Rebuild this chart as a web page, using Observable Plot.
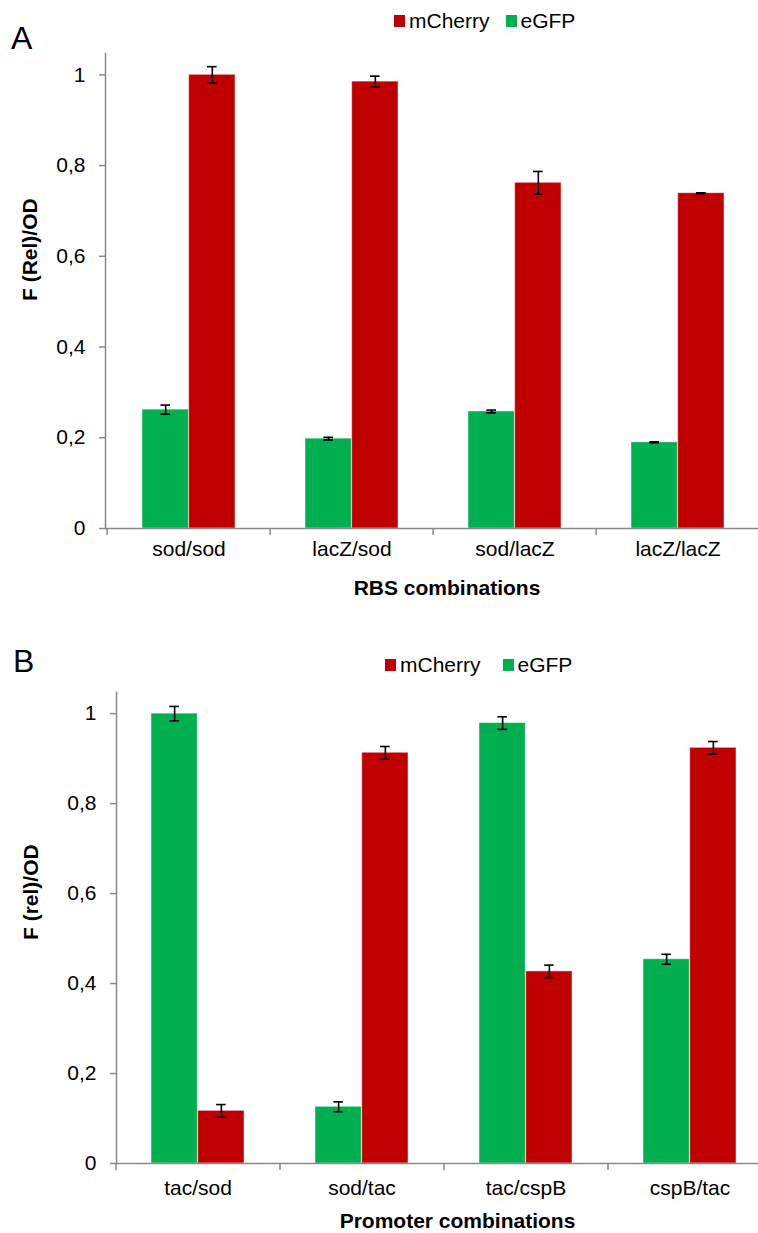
<!DOCTYPE html>
<html><head><meta charset="utf-8">
<script src="https://cdn.jsdelivr.net/npm/d3@7"></script>
<script src="https://cdn.jsdelivr.net/npm/@observablehq/plot@0.6"></script>
<style>
html,body{margin:0;padding:0;background:#fff;overflow:hidden;}
#page{position:relative;width:758px;height:1233px;overflow:hidden;font-family:"Liberation Sans",Arial,Helvetica,sans-serif;color:#000;}
.panel{position:absolute;left:0;width:800px;}
.panel svg{max-width:none !important;}
.letter{position:absolute;font-size:32px;line-height:1;}
.legend{position:absolute;display:flex;align-items:center;font-size:21px;line-height:1;}
.sw{display:inline-block;width:11px;height:12px;margin-right:4px;}
</style></head><body><div id="page"></div>
<script>
// ---- data ----
const seriesNames = ["mCherry", "eGFP"];
const seriesColors = ["#C00000", "#00B050"];
const yTicks = [0, 0.2, 0.4, 0.6, 0.8, 1];

const categoriesA = ["sod/sod", "lacZ/sod", "sod/lacZ", "lacZ/lacZ"];
const mCherryA = [1.0, 0.985, 0.762, 0.739];
const mCherryErrA = [0.018, 0.012, 0.025, 0.001];
const eGFPA = [0.262, 0.198, 0.258, 0.190];
const eGFPErrA = [0.010, 0.003, 0.003, 0.001];

const categoriesB = ["tac/sod", "sod/tac", "tac/cspB", "cspB/tac"];
const mCherryB = [0.117, 0.913, 0.427, 0.924];
const mCherryErrB = [0.014, 0.014, 0.014, 0.014];
const eGFPB = [1.0, 0.126, 0.979, 0.454];
const eGFPErrB = [0.016, 0.011, 0.014, 0.011];

const GRAY = "#898989";
const FONT = "Liberation Sans, Arial, Helvetica, sans-serif";
const fmt = d => String(d).replace(".", ",");

function panel(o) {
  const rows = [];
  o.categories.forEach((c, i) => {
    rows.push({cat: c, series: "eGFP", value: o.eGFP[i], err: o.eGFPErr[i]});
    rows.push({cat: c, series: "mCherry", value: o.mCherry[i], err: o.mCherryErr[i]});
  });
  const G = rows.filter(d => d.series === "eGFP");
  const R = rows.filter(d => d.series === "mCherry");
  const pI = 0.43;
  const step = (o.width - o.marginLeft - 0) / o.categories.length;
  const bw = step * (1 - pI);
  const cap = 5;
  const errMarks = (data, side) => {
    const dx = side * bw / 4;
    const inL = side < 0 ? bw / 4 - cap : 3 * bw / 4 - cap;
    const inR = side < 0 ? 3 * bw / 4 - cap : bw / 4 - cap;
    return [
      Plot.ruleX(data, {x: "cat", y1: d => d.value - d.err, y2: d => d.value + d.err, dx, stroke: "#000", strokeWidth: 1.6}),
      Plot.tickY(data, {x: "cat", y: d => d.value - d.err, insetLeft: inL, insetRight: inR, stroke: "#000", strokeWidth: 1.6}),
      Plot.tickY(data, {x: "cat", y: d => d.value + d.err, insetLeft: inL, insetRight: inR, stroke: "#000", strokeWidth: 1.6})
    ];
  };
  return Plot.plot({
    width: o.width, height: o.height,
    marginLeft: o.marginLeft, marginRight: 0, marginTop: o.marginTop, marginBottom: o.marginBottom,
    style: {fontFamily: FONT, fontSize: "21px", background: "#fff", overflow: "visible", maxWidth: "none"},
    x: {domain: o.categories, paddingInner: pI, paddingOuter: pI / 2},
    y: {domain: [0, 1.047]},
    color: {domain: seriesNames, range: seriesColors},
    marks: [
      Plot.barY(G, {x: "cat", y: "value", fill: "series", insetLeft: 0, insetRight: bw / 2, stroke: "#fff", strokeOpacity: 0.45, strokeWidth: 1}),
      Plot.barY(R, {x: "cat", y: "value", fill: "series", insetLeft: bw / 2, insetRight: 0, stroke: "#fff", strokeOpacity: 0.45, strokeWidth: 1}),
      ...errMarks(G, -1),
      ...errMarks(R, 1),
      Plot.ruleY([0], {stroke: GRAY, strokeWidth: 1.5}),
      Plot.frame({anchor: "left", stroke: GRAY, strokeWidth: 1.5}),
      Plot.axisY({ticks: yTicks, tickSize: 6, tickPadding: 14, tickFormat: fmt, stroke: GRAY, fill: "#000", fontSize: 21, label: null, strokeWidth: 1.5}),
      Plot.axisX({ticks: o.categories, tickSize: 7, dx: -step / 2, tickFormat: () => "", stroke: GRAY, label: null, strokeWidth: 1.5}),
      Plot.axisX({tickSize: 0, tickPadding: o.catPad, fontSize: 21, fill: "#000", label: null}),
      Plot.text([o.xLabel], {text: d => d, frameAnchor: "bottom", dx: o.xlabDx, dy: o.xlabDy, fontWeight: "bold", fontSize: 21}),
      Plot.text([o.yLabel], {text: d => d, frameAnchor: "left", rotate: -90, dx: o.ylabDx, dy: o.ylabDy, fontWeight: "bold", fontSize: 21})
    ]
  });
}

function legend(left, top, gap1, gap2) {
  const div = document.createElement("div");
  div.className = "legend";
  div.style.left = left + "px";
  div.style.top = top + "px";
  seriesNames.forEach((n, i) => {
    const sw = document.createElement("span");
    sw.className = "sw";
    sw.style.background = seriesColors[i];
    sw.style.marginRight = gap1 + "px";
    const t = document.createElement("span");
    t.textContent = n;
    if (i === 0) t.style.marginRight = gap2 + "px";
    div.appendChild(sw); div.appendChild(t);
  });
  return div;
}

const page = document.getElementById("page");

const pa = panel({
  categories: categoriesA, mCherry: mCherryA, mCherryErr: mCherryErrA, eGFP: eGFPA, eGFPErr: eGFPErrA,
  xLabel: "RBS combinations", yLabel: "F (Rel)/OD",
  width: 760, height: 625, marginLeft: 105, marginTop: 53, marginBottom: 97, catPad: 13,
  xlabDx: 14, xlabDy: 66, ylabDx: -75, ylabDy: 10
});
const wa = document.createElement("div"); wa.className = "panel"; wa.style.top = "0px"; wa.appendChild(pa);
page.appendChild(wa);

const pb = panel({
  categories: categoriesB, mCherry: mCherryB, mCherryErr: mCherryErrB, eGFP: eGFPB, eGFPErr: eGFPErrB,
  xLabel: "Promoter combinations", yLabel: "F (rel)/OD",
  width: 772, height: 608, marginLeft: 116, marginTop: 67, marginBottom: 70, catPad: 17,
  xlabDx: 13, xlabDy: 64, ylabDx: -85, ylabDy: 12
});
const wb = document.createElement("div"); wb.className = "panel"; wb.style.top = "625px"; wb.appendChild(pb);
page.appendChild(wb);

const la = document.createElement("div"); la.className = "letter"; la.textContent = "A"; la.style.left = "11px"; la.style.top = "22px";
page.appendChild(la);
const lb = document.createElement("div"); lb.className = "letter"; lb.textContent = "B"; lb.style.left = "13px"; lb.style.top = "645px";
page.appendChild(lb);

page.appendChild(legend(394, 10, 4, 16));
page.appendChild(legend(385, 654, 4, 22));
</script>
</body></html>
